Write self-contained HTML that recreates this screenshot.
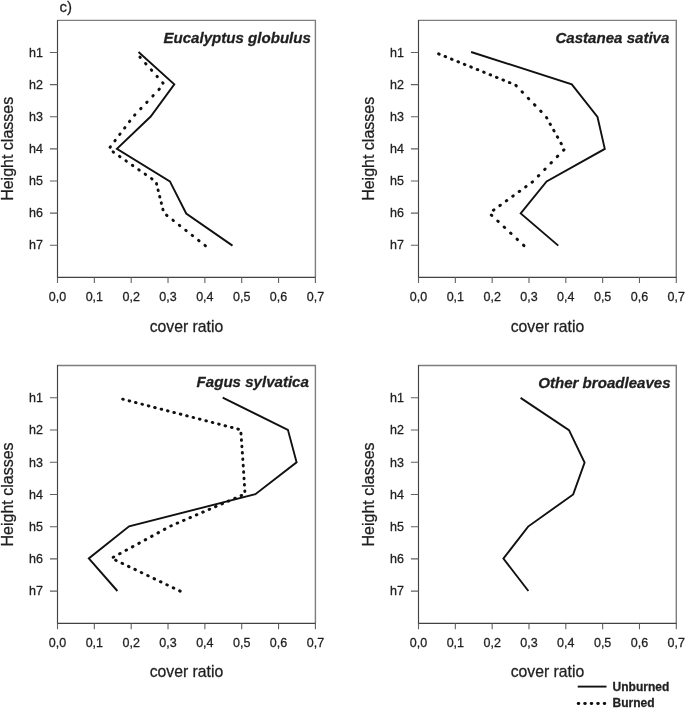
<!DOCTYPE html>
<html lang="en"><head><meta charset="utf-8"><title>Cover ratio by height classes</title>
<style>html,body{margin:0;padding:0;background:#fff}body{width:685px;height:708px;overflow:hidden}svg{display:block;will-change:transform}text{stroke:#1f1f1f;stroke-width:.28px;stroke-linejoin:round}</style>
</head><body>
<svg width="685" height="708" viewBox="0 0 685 708" font-family="'Liberation Sans', Arial, sans-serif" fill="#1f1f1f">
<text x="59.5" y="11.8" font-size="15">c)</text>
<g>
<path d="M57.5 20.4H315.4V277.3" fill="none" stroke="#7e7e7e" stroke-width="1.4"/>
<path d="M57.5 20.00V277.3H315.80" fill="none" stroke="#424242" stroke-width="1.15"/>
<path d="M49.90 52.51H57.5M49.90 84.62H57.5M49.90 116.74H57.5M49.90 148.85H57.5M49.90 180.96H57.5M49.90 213.08H57.5M49.90 245.19H57.5M57.50 277.3V283.10M94.34 277.3V283.10M131.19 277.3V283.10M168.03 277.3V283.10M204.87 277.3V283.10M241.71 277.3V283.10M278.56 277.3V283.10M315.40 277.3V283.10" stroke="#626262" stroke-width="1.1" fill="none"/>
<text x="42.90" y="56.81" font-size="12.5" text-anchor="end">h1</text>
<text x="42.90" y="88.92" font-size="12.5" text-anchor="end">h2</text>
<text x="42.90" y="121.04" font-size="12.5" text-anchor="end">h3</text>
<text x="42.90" y="153.15" font-size="12.5" text-anchor="end">h4</text>
<text x="42.90" y="185.26" font-size="12.5" text-anchor="end">h5</text>
<text x="42.90" y="217.38" font-size="12.5" text-anchor="end">h6</text>
<text x="42.90" y="249.49" font-size="12.5" text-anchor="end">h7</text>
<text x="57.50" y="300.90" font-size="12.5" text-anchor="middle">0,0</text>
<text x="94.34" y="300.90" font-size="12.5" text-anchor="middle">0,1</text>
<text x="131.19" y="300.90" font-size="12.5" text-anchor="middle">0,2</text>
<text x="168.03" y="300.90" font-size="12.5" text-anchor="middle">0,3</text>
<text x="204.87" y="300.90" font-size="12.5" text-anchor="middle">0,4</text>
<text x="241.71" y="300.90" font-size="12.5" text-anchor="middle">0,5</text>
<text x="278.56" y="300.90" font-size="12.5" text-anchor="middle">0,6</text>
<text x="315.40" y="300.90" font-size="12.5" text-anchor="middle">0,7</text>
<text x="186.45" y="331.50" font-size="15.75" text-anchor="middle">cover ratio</text>
<text transform="translate(12.90 148.85) rotate(-90)" font-size="16" text-anchor="middle">Height classes</text>
<text x="310.90" y="43.40" font-size="15.08" font-weight="bold" font-style="italic" text-anchor="end">Eucalyptus globulus</text>
<polyline points="138.5,52.0 174.3,84.4 150.7,116.5 116.9,148.9 169.9,181.4 186.2,213.5 232.5,245.6" fill="none" stroke="#111" stroke-width="1.9" stroke-linejoin="miter"/>
<path d="M139.91 57.08L140.31 57.52M145.60 63.48L146.00 63.93M151.29 69.89L151.69 70.34M156.99 76.30L157.38 76.75M162.68 82.71L163.08 83.16M159.32 89.13L158.90 89.56M153.22 95.54L152.81 95.97M147.13 101.95L146.72 102.38M141.04 108.36L140.63 108.79M134.95 114.76L134.54 115.20M129.78 121.15L129.42 121.63M124.94 127.56L124.57 128.04M120.09 133.97L119.73 134.45M115.24 140.38L114.88 140.86M110.40 146.79L110.04 147.27M113.09 151.88L113.58 152.22M119.50 156.33L119.99 156.68M125.91 160.79L126.40 161.13M132.32 165.24L132.81 165.58M138.73 169.70L139.22 170.04M145.14 174.15L145.63 174.49M151.54 178.60L152.04 178.95M156.48 183.61L156.62 184.19M158.07 190.02L158.22 190.60M159.67 196.43L159.82 197.01M161.27 202.84L161.41 203.42M162.86 209.25L163.01 209.83M166.51 215.13L166.98 215.50M172.92 220.18L173.39 220.55M179.33 225.23L179.80 225.60M185.74 230.27L186.21 230.65M192.15 235.32L192.62 235.69M198.56 240.37L199.03 240.74M204.96 245.41L205.44 245.79" fill="none" stroke="#111" stroke-width="2.96" stroke-linecap="round"/>
</g>
<g>
<path d="M418.5 20.4H676.3V277.3" fill="none" stroke="#7e7e7e" stroke-width="1.4"/>
<path d="M418.5 20.00V277.3H676.70" fill="none" stroke="#424242" stroke-width="1.15"/>
<path d="M410.90 52.51H418.5M410.90 84.62H418.5M410.90 116.74H418.5M410.90 148.85H418.5M410.90 180.96H418.5M410.90 213.08H418.5M410.90 245.19H418.5M418.50 277.3V283.10M455.33 277.3V283.10M492.16 277.3V283.10M528.99 277.3V283.10M565.81 277.3V283.10M602.64 277.3V283.10M639.47 277.3V283.10M676.30 277.3V283.10" stroke="#626262" stroke-width="1.1" fill="none"/>
<text x="403.90" y="56.81" font-size="12.5" text-anchor="end">h1</text>
<text x="403.90" y="88.92" font-size="12.5" text-anchor="end">h2</text>
<text x="403.90" y="121.04" font-size="12.5" text-anchor="end">h3</text>
<text x="403.90" y="153.15" font-size="12.5" text-anchor="end">h4</text>
<text x="403.90" y="185.26" font-size="12.5" text-anchor="end">h5</text>
<text x="403.90" y="217.38" font-size="12.5" text-anchor="end">h6</text>
<text x="403.90" y="249.49" font-size="12.5" text-anchor="end">h7</text>
<text x="418.50" y="300.90" font-size="12.5" text-anchor="middle">0,0</text>
<text x="455.33" y="300.90" font-size="12.5" text-anchor="middle">0,1</text>
<text x="492.16" y="300.90" font-size="12.5" text-anchor="middle">0,2</text>
<text x="528.99" y="300.90" font-size="12.5" text-anchor="middle">0,3</text>
<text x="565.81" y="300.90" font-size="12.5" text-anchor="middle">0,4</text>
<text x="602.64" y="300.90" font-size="12.5" text-anchor="middle">0,5</text>
<text x="639.47" y="300.90" font-size="12.5" text-anchor="middle">0,6</text>
<text x="676.30" y="300.90" font-size="12.5" text-anchor="middle">0,7</text>
<text x="547.40" y="331.50" font-size="15.75" text-anchor="middle">cover ratio</text>
<text transform="translate(373.90 148.85) rotate(-90)" font-size="16" text-anchor="middle">Height classes</text>
<text x="669.40" y="43.10" font-size="15.08" font-weight="bold" font-style="italic" text-anchor="end">Castanea sativa</text>
<polyline points="471.1,52.0 571.8,84.4 597.5,117.0 604.8,148.9 546.6,181.4 520.7,213.4 558.3,245.6" fill="none" stroke="#111" stroke-width="1.9" stroke-linejoin="miter"/>
<path d="M438.62 53.87L439.18 54.10M445.06 56.48L445.61 56.70M451.49 59.08L452.04 59.31M457.92 61.69L458.48 61.91M464.36 64.29L464.91 64.52M470.79 66.90L471.34 67.12M477.22 69.50L477.78 69.73M483.66 72.11L484.21 72.33M490.09 74.71L490.64 74.94M496.52 77.32L497.08 77.54M502.96 79.92L503.51 80.15M509.39 82.53L509.94 82.75M515.87 85.38L516.29 85.82M522.08 91.82L522.50 92.25M528.29 98.25L528.71 98.68M534.50 104.68L534.92 105.12M540.71 111.12L541.13 111.55M546.51 117.51L546.80 118.03M550.13 123.94L550.42 124.46M553.75 130.37L554.04 130.89M557.37 136.81L557.66 137.33M560.99 143.24L561.28 143.76M563.99 149.72L563.57 150.15M557.70 156.15L557.28 156.58M551.40 162.59L550.98 163.01M545.11 169.02L544.69 169.45M538.81 175.45L538.39 175.88M532.54 181.84L532.06 182.19M526.11 186.52L525.62 186.87M519.68 191.19L519.19 191.55M513.24 195.87L512.76 196.22M506.81 200.55L506.32 200.90M500.38 205.22L499.89 205.57M493.94 209.90L493.46 210.25M491.31 215.00L491.75 215.41M497.75 221.04L498.19 221.45M504.18 227.08L504.62 227.49M510.61 233.12L511.05 233.53M517.05 239.16L517.49 239.57M523.48 245.19L523.92 245.61" fill="none" stroke="#111" stroke-width="2.96" stroke-linecap="round"/>
</g>
<g>
<path d="M57.5 365.5H315.4V623.4" fill="none" stroke="#7e7e7e" stroke-width="1.4"/>
<path d="M57.5 365.10V623.4H315.80" fill="none" stroke="#424242" stroke-width="1.15"/>
<path d="M49.90 397.74H57.5M49.90 429.98H57.5M49.90 462.21H57.5M49.90 494.45H57.5M49.90 526.69H57.5M49.90 558.92H57.5M49.90 591.16H57.5M57.50 623.4V629.20M94.34 623.4V629.20M131.19 623.4V629.20M168.03 623.4V629.20M204.87 623.4V629.20M241.71 623.4V629.20M278.56 623.4V629.20M315.40 623.4V629.20" stroke="#626262" stroke-width="1.1" fill="none"/>
<text x="42.90" y="402.04" font-size="12.5" text-anchor="end">h1</text>
<text x="42.90" y="434.28" font-size="12.5" text-anchor="end">h2</text>
<text x="42.90" y="466.51" font-size="12.5" text-anchor="end">h3</text>
<text x="42.90" y="498.75" font-size="12.5" text-anchor="end">h4</text>
<text x="42.90" y="530.99" font-size="12.5" text-anchor="end">h5</text>
<text x="42.90" y="563.22" font-size="12.5" text-anchor="end">h6</text>
<text x="42.90" y="595.46" font-size="12.5" text-anchor="end">h7</text>
<text x="57.50" y="647.00" font-size="12.5" text-anchor="middle">0,0</text>
<text x="94.34" y="647.00" font-size="12.5" text-anchor="middle">0,1</text>
<text x="131.19" y="647.00" font-size="12.5" text-anchor="middle">0,2</text>
<text x="168.03" y="647.00" font-size="12.5" text-anchor="middle">0,3</text>
<text x="204.87" y="647.00" font-size="12.5" text-anchor="middle">0,4</text>
<text x="241.71" y="647.00" font-size="12.5" text-anchor="middle">0,5</text>
<text x="278.56" y="647.00" font-size="12.5" text-anchor="middle">0,6</text>
<text x="315.40" y="647.00" font-size="12.5" text-anchor="middle">0,7</text>
<text x="186.45" y="677.20" font-size="15.75" text-anchor="middle">cover ratio</text>
<text transform="translate(12.90 494.45) rotate(-90)" font-size="16" text-anchor="middle">Height classes</text>
<text x="308.90" y="387.30" font-size="15.08" font-weight="bold" font-style="italic" text-anchor="end">Fagus sylvatica</text>
<polyline points="222.7,397.7 287.9,429.8 296.6,462.3 255.4,494.2 129.1,526.3 88.8,558.4 117.4,591.0" fill="none" stroke="#111" stroke-width="1.9" stroke-linejoin="miter"/>
<path d="M122.71 399.18L123.29 399.33M129.11 400.84L129.69 400.99M135.50 402.50L136.08 402.65M141.90 404.16L142.48 404.31M148.30 405.82L148.88 405.97M154.69 407.48L155.27 407.63M161.09 409.14L161.67 409.29M167.49 410.80L168.07 410.95M173.88 412.46L174.46 412.61M180.28 414.12L180.86 414.27M186.68 415.78L187.26 415.93M193.07 417.44L193.65 417.59M199.47 419.10L200.05 419.25M205.87 420.76L206.45 420.91M212.26 422.42L212.84 422.57M218.66 424.08L219.24 424.23M225.06 425.74L225.64 425.89M231.45 427.40L232.03 427.55M237.85 429.06L238.43 429.21M240.95 433.34L241.00 433.94M241.41 439.73L241.45 440.33M241.87 446.13L241.91 446.73M242.32 452.53L242.37 453.13M242.78 458.92L242.82 459.52M243.21 465.32L243.24 465.92M243.61 471.72L243.64 472.32M244.01 478.11L244.04 478.71M244.41 484.51L244.44 485.11M244.81 490.91L244.84 491.51M241.67 495.43L241.12 495.67M235.28 498.19L234.72 498.43M228.88 500.95L228.33 501.18M222.48 503.70L221.93 503.94M216.09 506.46L215.53 506.70M209.69 509.21L209.14 509.45M203.29 511.97L202.74 512.21M196.90 514.73L196.34 514.96M190.50 517.48L189.95 517.72M184.10 520.24L183.55 520.48M177.71 523.00L177.15 523.23M171.31 525.75L170.76 525.99M164.90 529.15L164.37 529.43M158.50 532.63L157.98 532.91M152.11 536.11L151.58 536.39M145.71 539.59L145.18 539.87M139.31 543.07L138.79 543.35M132.92 546.55L132.39 546.83M126.52 550.03L125.99 550.31M120.12 553.51L119.60 553.79M113.73 556.99L113.20 557.28M115.66 560.20L116.20 560.46M122.06 563.26L122.60 563.52M128.46 566.33L129.00 566.59M134.85 569.40L135.39 569.66M141.25 572.47L141.79 572.73M147.65 575.53L148.19 575.79M154.04 578.60L154.58 578.86M160.44 581.67L160.98 581.93M166.84 584.74L167.38 584.99M173.23 587.80L173.77 588.06M179.63 590.87L180.17 591.13" fill="none" stroke="#111" stroke-width="2.96" stroke-linecap="round"/>
</g>
<g>
<path d="M418.5 365.5H676.3V623.4" fill="none" stroke="#7e7e7e" stroke-width="1.4"/>
<path d="M418.5 365.10V623.4H676.70" fill="none" stroke="#424242" stroke-width="1.15"/>
<path d="M410.90 397.74H418.5M410.90 429.98H418.5M410.90 462.21H418.5M410.90 494.45H418.5M410.90 526.69H418.5M410.90 558.92H418.5M410.90 591.16H418.5M418.50 623.4V629.20M455.33 623.4V629.20M492.16 623.4V629.20M528.99 623.4V629.20M565.81 623.4V629.20M602.64 623.4V629.20M639.47 623.4V629.20M676.30 623.4V629.20" stroke="#626262" stroke-width="1.1" fill="none"/>
<text x="403.90" y="402.04" font-size="12.5" text-anchor="end">h1</text>
<text x="403.90" y="434.28" font-size="12.5" text-anchor="end">h2</text>
<text x="403.90" y="466.51" font-size="12.5" text-anchor="end">h3</text>
<text x="403.90" y="498.75" font-size="12.5" text-anchor="end">h4</text>
<text x="403.90" y="530.99" font-size="12.5" text-anchor="end">h5</text>
<text x="403.90" y="563.22" font-size="12.5" text-anchor="end">h6</text>
<text x="403.90" y="595.46" font-size="12.5" text-anchor="end">h7</text>
<text x="418.50" y="647.00" font-size="12.5" text-anchor="middle">0,0</text>
<text x="455.33" y="647.00" font-size="12.5" text-anchor="middle">0,1</text>
<text x="492.16" y="647.00" font-size="12.5" text-anchor="middle">0,2</text>
<text x="528.99" y="647.00" font-size="12.5" text-anchor="middle">0,3</text>
<text x="565.81" y="647.00" font-size="12.5" text-anchor="middle">0,4</text>
<text x="602.64" y="647.00" font-size="12.5" text-anchor="middle">0,5</text>
<text x="639.47" y="647.00" font-size="12.5" text-anchor="middle">0,6</text>
<text x="676.30" y="647.00" font-size="12.5" text-anchor="middle">0,7</text>
<text x="547.40" y="677.20" font-size="15.75" text-anchor="middle">cover ratio</text>
<text transform="translate(373.90 494.45) rotate(-90)" font-size="16" text-anchor="middle">Height classes</text>
<text x="670.60" y="387.70" font-size="15.08" font-weight="bold" font-style="italic" text-anchor="end">Other broadleaves</text>
<polyline points="520.6,397.9 569.0,430.2 584.6,462.6 573.2,494.4 528.1,526.6 503.4,558.6 528.4,591.0" fill="none" stroke="#111" stroke-width="1.9" stroke-linejoin="miter"/>
</g>
<path d="M577.7 686.6H606.5" stroke="#111" stroke-width="1.9" fill="none"/>
<path d="M578.20 703.6h0.6M584.70 703.6h0.6M591.20 703.6h0.6M597.70 703.6h0.6M604.20 703.6h0.6" fill="none" stroke="#111" stroke-width="2.96" stroke-linecap="round"/>
<text x="612.6" y="690.6" font-size="12" font-weight="bold">Unburned</text>
<text x="612.6" y="706.9" font-size="12" font-weight="bold">Burned</text>
</svg>
</body></html>
